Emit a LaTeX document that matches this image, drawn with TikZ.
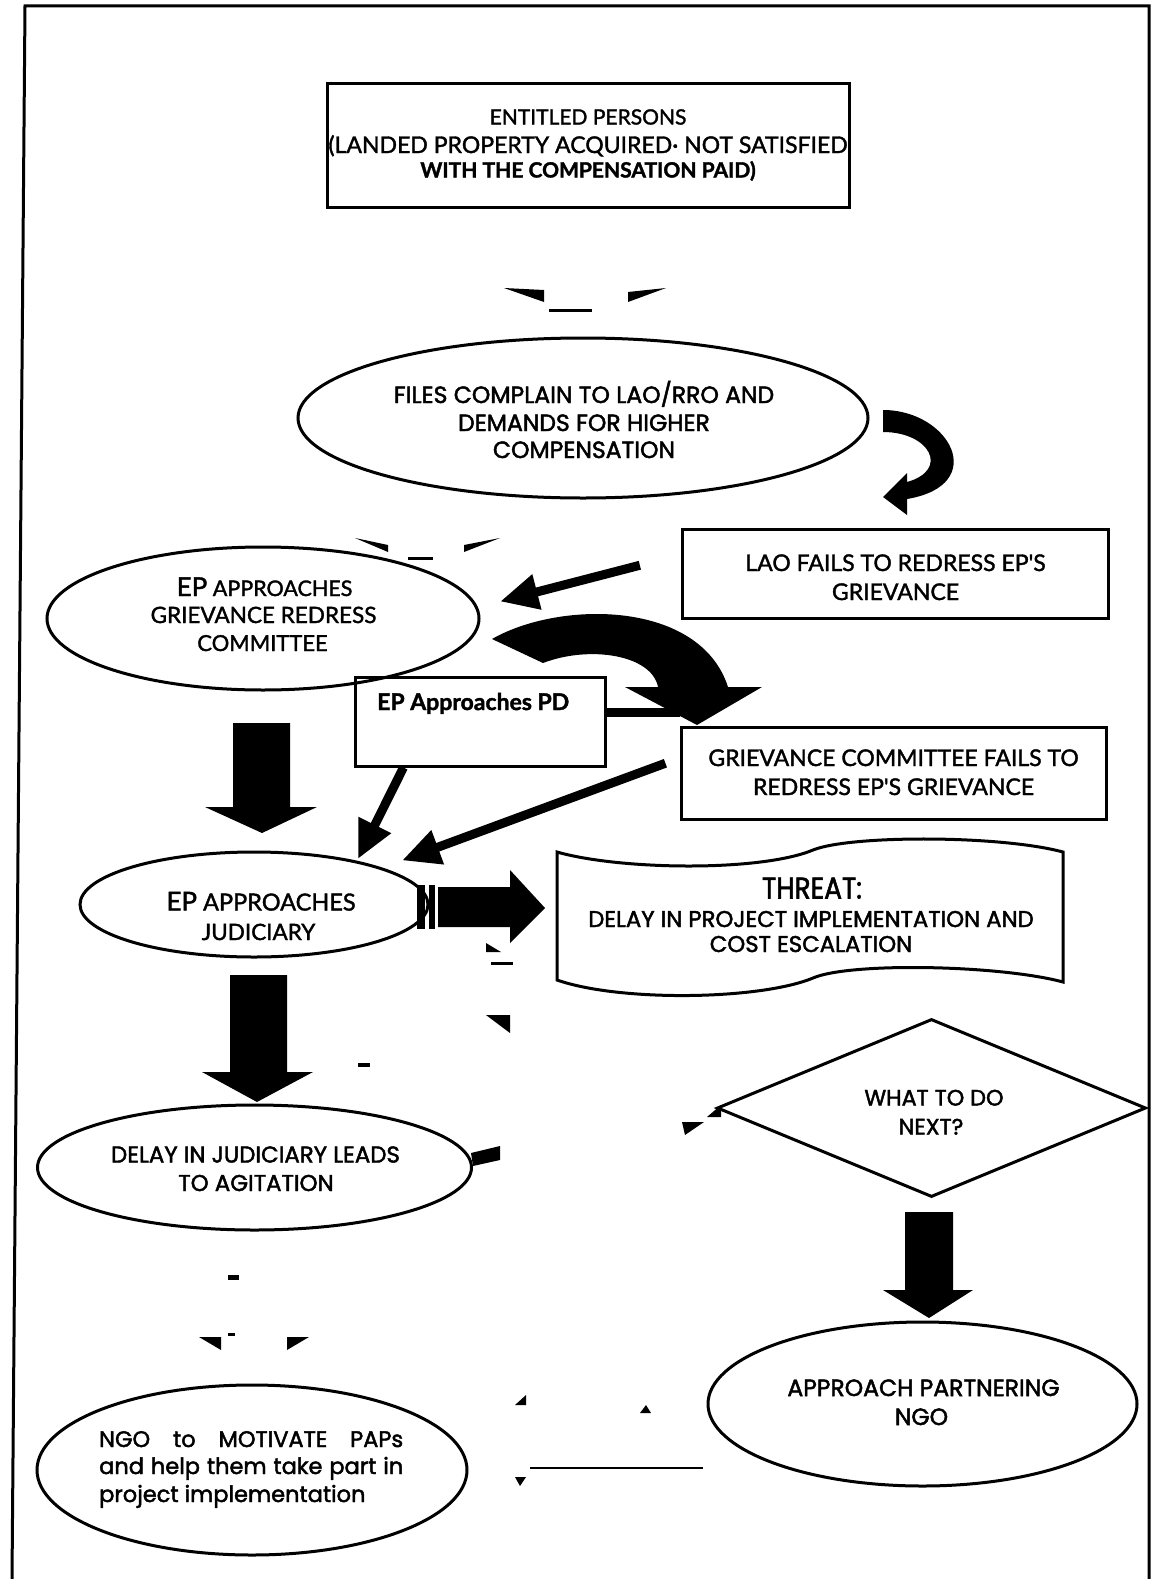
\documentclass[tikz,border=0pt]{standalone}
\usepackage{fontspec}
\usepackage{graphicx}
\usetikzlibrary{shapes.geometric,arrows.meta}
\newfontfamily\gothic[FakeBold=2]{Poppins}
\newfontfamily\gill[FakeBold=1.6]{Lato}
\begin{document}
\begin{tikzpicture}[x=1pt,y=-1pt,
  outline/.style={draw,line width=3pt,inner sep=0pt},
  boxnode/.style={outline,rectangle},
  ellnode/.style={outline,ellipse},
  gt/.style={font=\gothic\fontsize{23.5}{28}\selectfont,inner sep=0pt,anchor=base},
  gs/.style={font=\gill\fontsize{23}{29}\selectfont,inner sep=0pt,anchor=base},
  conn/.style={line width=9pt,-{Triangle[length=38pt,width=34pt]}},
  scrap/.style={fill=black}]

\useasboundingbox (0,0) rectangle (1154,1579);
\fill[white] (0,0) rectangle (1154,1579);

% page frame
\draw[line width=3pt] (12,1579) -- (25,6) -- (1149,6) -- (1149,1579);

% leftover arrow fragments
\fill[scrap] (504,288) -- (544,290) -- (544,302) -- cycle;
\fill[scrap] (628,292) -- (666,288) -- (628,302) -- cycle;
\fill[scrap] (549,309) rectangle (592,311.5);
\fill[scrap] (355,538) -- (388,545) -- (388,552) -- cycle;
\fill[scrap] (464,545) -- (500,538) -- (464,552) -- cycle;
\fill[scrap] (408,557) rectangle (433,559.5);
\fill[scrap] (486,943) -- (486,952) -- (501,952) -- cycle;
\fill[scrap] (491,962) rectangle (513,964.5);
\fill[scrap] (486,1015) -- (510,1015) -- (510,1033) -- cycle;
\fill[scrap] (707,1117) -- (721,1105) -- (721,1117) -- cycle;
\fill[scrap] (682,1122) -- (704,1122) -- (685,1135) -- cycle;
\fill[scrap] (471,1153) -- (500,1146) -- (500,1160) -- (473,1166) -- cycle;
\fill[scrap] (358,1063) rectangle (370,1067);
\fill[scrap] (199,1337) -- (221,1337) -- (221,1350) -- cycle;
\fill[scrap] (287,1337) -- (309,1337) -- (287,1350) -- cycle;
\fill[scrap] (228,1333) rectangle (235,1336);
\fill[scrap] (228,1275) rectangle (239,1280);
\fill[scrap] (515,1405) -- (526,1395) -- (526,1405) -- cycle;
\fill[scrap] (515,1477) -- (526,1477) -- (520,1486) -- cycle;
\fill[scrap] (640,1413) -- (651,1413) -- (646,1405) -- cycle;
\draw[line width=2pt] (530,1468) -- (703,1468);

% shapes
\node[boxnode,minimum width=522pt,minimum height=124pt] (entitled) at (588,145) {};
\node[ellnode,minimum width=570pt,minimum height=160pt] (complain) at (583,418) {};
\node[boxnode,minimum width=426pt,minimum height=89pt] (laofail) at (895,573.5) {};
\node[ellnode,minimum width=432pt,minimum height=143pt] (grc) at (263,618.5) {};
\node[boxnode,minimum width=250pt,minimum height=89pt] (pd) at (480,721.5) {};
\node[boxnode,minimum width=425pt,minimum height=92pt] (gcfail) at (893.5,773) {};
\node[ellnode,minimum width=348pt,minimum height=105pt] (jud) at (254,904.5) {};
\node[outline,diamond,minimum width=429pt,minimum height=178pt] (next) at (931.5,1108) {};
\node[ellnode,minimum width=434pt,minimum height=125pt] (delay) at (254.5,1167.5) {};
\node[ellnode,minimum width=429pt,minimum height=164pt] (partner) at (922.5,1404) {};
\node[ellnode,minimum width=430pt,minimum height=170pt] (motivate) at (252,1470) {};

% punched-tape shape of the threat statement
\draw[line width=3pt] (557,852) .. controls (620,870) and (760,872) .. (813,850)
  .. controls (850,835) and (1000,835) .. (1063,852) -- (1063,982)
  .. controls (1000,965) and (850,962) .. (813,978)
  .. controls (760,1000) and (620,1002) .. (557,980) -- cycle;

% straight connectors
\draw[line width=9pt] (pd.4.8) -- (pd.4.8 -| gcfail.west);
\draw[conn,shorten <=42pt,shorten >=23pt] (laofail.175) -- (grc.3);
\draw[conn,shorten >=2pt] (pd.211) -- (jud.23);
\draw[conn,shorten <=15pt,shorten >=21pt] (gcfail.176) -- (jud.16.5);

% small curved arrow: complaint -> LAO fails
\fill (883,410) .. controls (950,410) and (990,485) .. (907,499)
  -- (907,515) -- (883,497) -- (907,473) -- (907,482)
  .. controls (950,470) and (930,432) .. (883,432) -- cycle;

% large curved arrow: committee -> committee fails
\fill (492,639) .. controls (560,600) and (700,600) .. (728,687)
  -- (762,687) -- (697,725) -- (625,687) -- (658,687)
  .. controls (652,655) and (590,645) .. (543,663) -- cycle;

% block arrows
\fill (233,723) -- (290,723) -- (290,807) -- (317,807) -- (262,833) -- (205,807) -- (233,807) -- cycle;
\fill (230,975) -- (287,975) -- (287,1072) -- (313,1072) -- (257,1102) -- (202,1072) -- (230,1072) -- cycle;
\fill (905,1212) -- (953,1212) -- (953,1290) -- (973,1290) -- (929,1318) -- (883,1290) -- (905,1290) -- cycle;
\fill (417,885) rectangle (425,929);
\fill (429,885) rectangle (435,929);
\fill (438,887) -- (510,887) -- (510,870) -- (545,908) -- (510,943) -- (510,927) -- (438,927) -- cycle;

% texts
\node[gs,font=\gill\fontsize{21}{27}\selectfont] (a1) at (588,124.5) {ENTITLED PERSONS};
\node[gs,font=\gill\fontsize{23}{27}\selectfont] (a2) at (588,153) {(LANDED PROPERTY ACQUIRED· NOT SATISFIED};
\node[gs,font=\gill\bfseries\fontsize{21}{27}\selectfont] (a3) at (588,177.5) {WITH THE COMPENSATION PAID)};

\node[gt] (b1) at (584,403) {FILES COMPLAIN TO LAO/RRO AND};
\node[gt] (b2) at (584,431) {DEMANDS FOR HIGHER};
\node[gt] (b3) at (584,458) {COMPENSATION};

\node[gs] (c1) at (895.5,571) {LAO FAILS TO REDRESS EP'S};
\node[gs] (c2) at (895.5,600) {GRIEVANCE};

\node[gs,font=\gill\fontsize{21.5}{29}\selectfont] (g1) at (264.5,596) {{\fontsize{26}{29}\selectfont EP} APPROACHES};
\node[gs,font=\gill\fontsize{22.5}{29}\selectfont] (g2) at (263.5,623) {GRIEVANCE REDRESS};
\node[gs,font=\gill\fontsize{22}{29}\selectfont] (g3) at (262.5,651) {COMMITTEE};

\node[gs,font=\gill\bfseries\fontsize{23}{29}\selectfont,anchor=base west] (pdt) at (377,710) {EP Approaches PD};

\node[gs] (d1) at (893.5,766) {GRIEVANCE COMMITTEE FAILS TO};
\node[gs] (d2) at (893.5,795) {REDRESS EP'S GRIEVANCE};

\node[gs,font=\gill\fontsize{23.5}{29}\selectfont] (j1) at (261,910.5) {{\fontsize{26}{29}\selectfont EP} APPROACHES};
\node[gs,font=\gill\fontsize{22.5}{29}\selectfont] (j2) at (258.5,940) {JUDICIARY};

\node[gt,font=\gothic\fontsize{30}{30}\selectfont] (t1) at (812,898.5) {\scalebox{0.88}[1]{THREAT:}};
\node[gt,font=\gothic\fontsize{22.8}{26}\selectfont] (t2) at (811,927) {DELAY IN PROJECT IMPLEMENTATION AND};
\node[gt,font=\gothic\fontsize{22.8}{26}\selectfont] (t3) at (811,952) {COST ESCALATION};

\node[gt,font=\gothic\fontsize{22.3}{28}\selectfont] (n1) at (934,1105.5) {WHAT TO DO};
\node[gt,font=\gothic\fontsize{22.3}{28}\selectfont] (n2) at (931,1134.5) {NEXT?};

\node[gt,font=\gothic\fontsize{22.9}{28}\selectfont] (e1) at (255.5,1162.5) {DELAY IN JUDICIARY LEADS};
\node[gt,font=\gothic\fontsize{22.9}{28}\selectfont] (e2) at (256,1191) {TO AGITATION};

\node[gt] (p1) at (923.5,1396) {APPROACH PARTNERING};
\node[gt] (p2) at (921.5,1425) {NGO};

\node[gt,font=\gothic\fontsize{22.5}{28}\selectfont,anchor=base west] (m1) at (99,1447) {\hbox to 304pt{NGO\hfill to\hfill MOTIVATE\hfill PAPs}};
\node[gt,font=\gothic\fontsize{22.5}{28}\selectfont,anchor=base west] (m2) at (99,1474) {\hbox to 304pt{and\hfill help\hfill them\hfill take\hfill part\hfill in}};
\node[gt,font=\gothic\fontsize{22.5}{28}\selectfont,anchor=base west] (m3) at (99,1502) {project implementation};
\end{tikzpicture}
\end{document}
